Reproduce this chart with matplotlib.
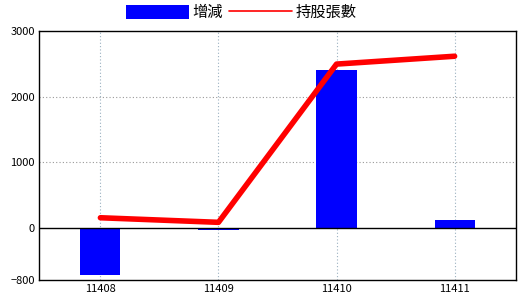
import matplotlib
matplotlib.use("Agg")
import matplotlib.pyplot as plt

plt.rcParams['font.family'] = ['Noto Sans CJK TC', 'DejaVu Sans']

months = ["11408", "11409", "11410", "11411"]
change = [-730, -40, 2405, 122]
holders = [150, 80, 2495, 2615]

fig = plt.figure(figsize=(5.2, 3.0), dpi=100)
ax = fig.add_axes([39 / 520, 20 / 300, 477 / 520, 249 / 300])

x = list(range(len(months)))
bars = ax.bar(x, change, width=0.34, color="#0000ff", label="增減", zorder=2)
line, = ax.plot(x, holders, color="#ff0000", linewidth=4, label="持股張數",
                solid_capstyle="round", zorder=3)

ax.set_xlim(-0.52, 3.52)
ax.set_ylim(-800, 3000)
ax.set_yticks([-800, 0, 1000, 2000, 3000])
ax.set_xticks(x)
ax.set_xticklabels(months)
ax.tick_params(axis="both", labelsize=8, length=0, pad=3)

# grid
for xi in x:
    ax.axvline(xi, color="#9ab0c0", linestyle=(0, (1, 2)), linewidth=0.8, zorder=1)
for yv in [1000, 2000]:
    ax.axhline(yv, color="#999999", linestyle=(0, (1, 2)), linewidth=0.8, zorder=1)
ax.axhline(0, color="black", linewidth=1, zorder=2)

for s in ax.spines.values():
    s.set_linewidth(1)

fig.legend(handles=[bars, line], labels=["增減", "持股張數"], loc="upper left",
           bbox_to_anchor=(120 / 520, 1 + 2 / 300), ncol=2, frameon=False,
           fontsize=11, handlelength=4.1, handleheight=1.1, handletextpad=0.25,
           columnspacing=0.4, borderaxespad=0)
plt.setp(fig.legends[0].get_lines(), linewidth=1.2)

fig.savefig("out.png", dpi=100)
